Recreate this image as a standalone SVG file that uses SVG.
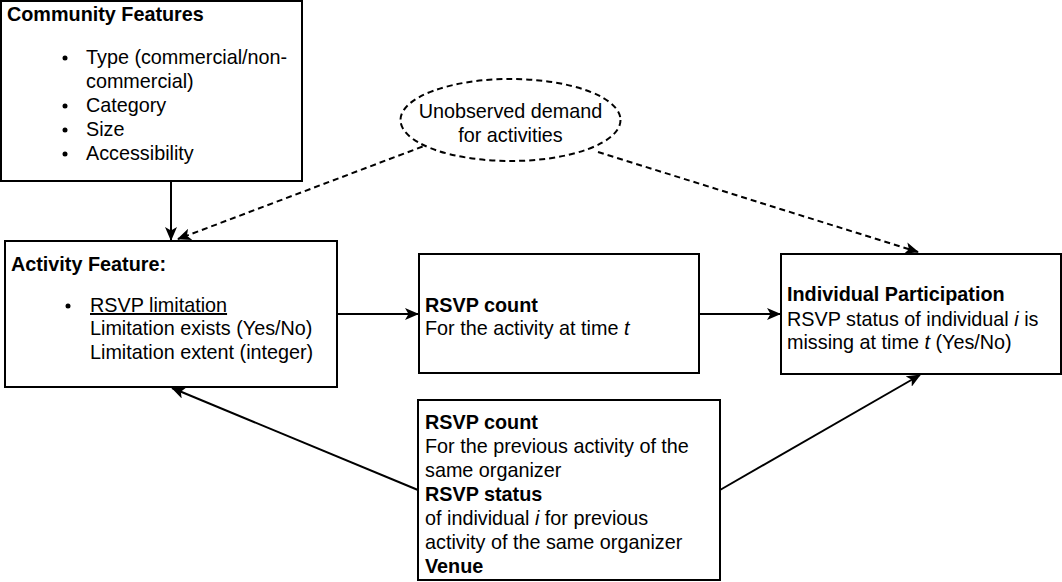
<svg xmlns="http://www.w3.org/2000/svg" width="1062" height="582" viewBox="0 0 1062 582">
<style>
.box{fill:#fff;stroke:#000;stroke-width:2}
.t{font-family:"Liberation Sans",Arial,sans-serif;font-size:19.8px;fill:#000}
.b{font-weight:bold}
.c{fill:none;stroke:#000;stroke-width:2}
.d{stroke-dasharray:6,4}
</style>
<defs>
<marker id="arr" markerUnits="userSpaceOnUse" markerWidth="14" markerHeight="12" viewBox="0 0 14 12" refX="13" refY="6" orient="auto">
<path d="M0,0 L14,6 L0,12 L3.5,6 z" fill="#000"/>
</marker>
</defs>
<rect width="1062" height="582" fill="#fff"/>
<g id="connectors">
<line class="c" x1="171" y1="181" x2="171" y2="240" marker-end="url(#arr)"/>
<line class="c d" x1="432" y1="143" x2="178" y2="239" marker-end="url(#arr)"/>
<line class="c d" x1="598" y1="152" x2="918" y2="252" marker-end="url(#arr)"/>
<line class="c" x1="337" y1="314" x2="418" y2="314" marker-end="url(#arr)"/>
<line class="c" x1="699" y1="314" x2="780" y2="314" marker-end="url(#arr)"/>
<line class="c" x1="418" y1="490" x2="172" y2="388" marker-end="url(#arr)"/>
<line class="c" x1="720" y1="490" x2="920" y2="375" marker-end="url(#arr)"/>
</g>
<g id="community">
<rect class="box" x="1" y="1" width="301" height="180"/>
<text class="t b" x="7" y="21">Community Features</text>
<g class="t">
<circle cx="65" cy="58" r="2.5"/><text x="86" y="64">Type (commercial/non-</text>
<text x="86" y="88">commercial)</text>
<circle cx="65" cy="106" r="2.5"/><text x="86" y="112">Category</text>
<circle cx="65" cy="130" r="2.5"/><text x="86" y="136">Size</text>
<circle cx="65" cy="154" r="2.5"/><text x="86" y="160">Accessibility</text>
</g>
</g>
<g id="demand">
<ellipse cx="510.5" cy="120" rx="110" ry="41" fill="#fff" stroke="#000" stroke-width="2" stroke-dasharray="6,4"/>
<text class="t" x="510.5" y="118" text-anchor="middle">Unobserved demand</text>
<text class="t" x="510.5" y="142" text-anchor="middle">for activities</text>
</g>
<g id="activity">
<rect class="box" x="5" y="241" width="332" height="146"/>
<text class="t b" x="11" y="271">Activity Feature:</text>
<circle cx="68" cy="306" r="2.5"/>
<text class="t" x="90" y="312" text-decoration="underline">RSVP limitation</text>
<text class="t" x="90" y="335">Limitation exists (Yes/No)</text>
<text class="t" x="90" y="359">Limitation extent (integer)</text>
</g>
<g id="rsvpcount">
<rect class="box" x="419" y="254" width="280" height="119"/>
<text class="t b" x="425" y="312">RSVP count</text>
<text class="t" x="425" y="335">For the activity at time <tspan font-style="italic">t</tspan></text>
</g>
<g id="participation">
<rect class="box" x="781" y="254" width="280" height="120"/>
<text class="t b" x="787" y="301">Individual Participation</text>
<text class="t" x="787" y="326">RSVP status of individual <tspan font-style="italic">i</tspan> is</text>
<text class="t" x="787" y="349">missing at time <tspan font-style="italic">t</tspan> (Yes/No)</text>
</g>
<g id="previous">
<rect class="box" x="418" y="400" width="302" height="180"/>
<text class="t b" x="425" y="429">RSVP count</text>
<text class="t" x="425" y="453">For the previous activity of the</text>
<text class="t" x="425" y="477">same organizer</text>
<text class="t b" x="425" y="501">RSVP status</text>
<text class="t" x="425" y="525">of individual <tspan font-style="italic">i</tspan> for previous</text>
<text class="t" x="425" y="549">activity of the same organizer</text>
<text class="t b" x="425" y="573">Venue</text>
</g>
</svg>
